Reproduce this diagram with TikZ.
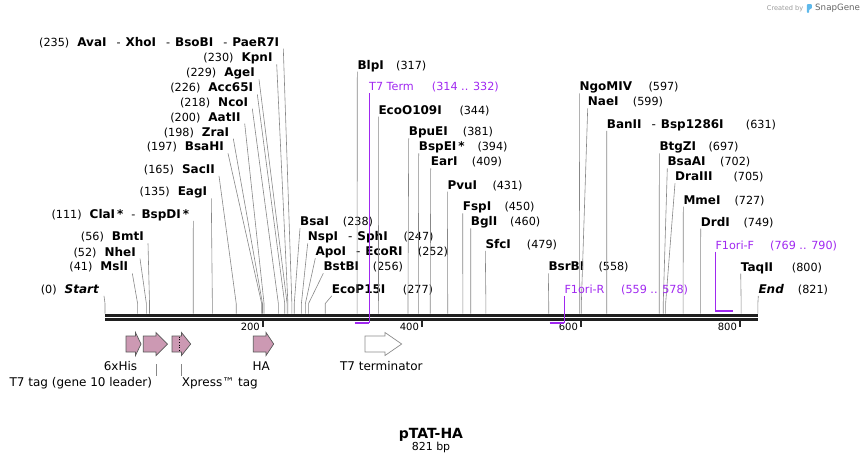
\documentclass[tikz,border=0pt]{standalone}
\usepackage{fontspec}
\setmainfont{DejaVu Sans}
\definecolor{featpink}{RGB}{204,153,179}
\definecolor{primpurple}{RGB}{160,40,240}
\definecolor{cutgray}{RGB}{135,135,135}
\definecolor{sgblue}{RGB}{95,185,235}
\newcommand{\nm}[1]{{\fontsize{12}{12}\selectfont\bfseries #1}}
\newcommand{\dsep}{\hspace{10pt}-\hspace{5pt}}
% feature arrow: x start, head start, tip, fill, outline
\newcommand{\featarrow}[5]{%
  \draw[draw=#5, fill=#4, line width=0.7pt] (#1,336) -- (#2,336) -- (#2,332.5) -- (#3,344)
    -- (#2,355.5) -- (#2,352) -- (#1,352) -- cycle;}
\tikzset{
  lab/.style={inner sep=0pt, font=\fontsize{11.2}{12}\selectfont, text height=8.6pt, text depth=2.4pt},
  enz/.style={lab, font=\fontsize{12}{12}\selectfont\bfseries},
  prim/.style={lab, text=primpurple},
  cut/.style={draw=cutgray, line width=0.6pt},
  primline/.style={draw=primpurple, line width=0.9pt},
  primbar/.style={draw=primpurple, line width=2pt},
  featlab/.style={inner sep=1pt, font=\fontsize{12}{14}\selectfont, text height=9pt, text depth=2.5pt},
  ticklab/.style={inner sep=0pt, font=\fontsize{10}{11}\selectfont},
}
\begin{document}
\begin{tikzpicture}[x=1pt, y=-1pt]
  \useasboundingbox (0,0) rectangle (864,464);

  % sites on the backbone
  \foreach \p in {0,41,52,56,111,135,165,197,198,200,218,226,229,230,235,238,247,252,256,277,
                  317,344,381,394,409,431,450,460,479,558,597,599,631,697,702,705,727,749,800,821}
    \coordinate (s\p) at ({105+0.7952*\p},313.5);
  \foreach \p in {314,332,559,578,769,790}
    \coordinate (p\p) at ({105+0.7952*\p},0);

  % left labels
  \node[lab, anchor=base east] (ava) at (279.3,46) {(235)\hspace{8pt}\nm{AvaI}\dsep\nm{XhoI}\dsep\nm{BsoBI}\dsep\nm{PaeR7I}};
  \node[lab, anchor=base east] (kpn) at (272.7,61.7) {(230)\hspace{8pt}\nm{KpnI}};
  \node[lab, anchor=base east] (age) at (255,76.7) {(229)\hspace{8pt}\nm{AgeI}};
  \node[lab, anchor=base east] (acc) at (253.3,91.7) {(226)\hspace{8pt}\nm{Acc65I}};
  \node[lab, anchor=base east] (nco) at (248.3,106) {(218)\hspace{8pt}\nm{NcoI}};
  \node[lab, anchor=base east] (aat) at (240.7,121) {(200)\hspace{8pt}\nm{AatII}};
  \node[lab, anchor=base east] (zra) at (229.3,136) {(198)\hspace{8pt}\nm{ZraI}};
  \node[lab, anchor=base east] (bsah) at (224,150.7) {(197)\hspace{8pt}\nm{BsaHI}};
  \node[lab, anchor=base east] (sac) at (215,173.3) {(165)\hspace{8pt}\nm{SacII}};
  \node[lab, anchor=base east] (eag) at (207.3,195.7) {(135)\hspace{8pt}\nm{EagI}};
  \node[lab, anchor=base east] (cla) at (189.3,218.3) {(111)\hspace{8pt}\nm{ClaI\,*}\hspace{8pt}-\hspace{6pt}\nm{BspDI\,*}};
  \node[lab, anchor=base east] (bmt) at (144,240.7) {(56)\hspace{8pt}\nm{BmtI}};
  \node[lab, anchor=base east] (nhe) at (136,256) {(52)\hspace{8pt}\nm{NheI}};
  \node[lab, anchor=base east] (msl) at (128.3,270.7) {(41)\hspace{8pt}\nm{MslI}};
  \node[lab, anchor=base east] (start) at (99,293.3) {(0)\hspace{8pt}\nm{\itshape Start}};

  \draw[cut] ([xshift=4pt]ava.south east) -- ([yshift=10pt]s235) -- (s235);
  \draw[cut] ([xshift=4pt]kpn.south east) -- ([yshift=10pt]s230) -- (s230);
  \draw[cut] ([xshift=4pt]age.south east) -- ([yshift=10pt]s229) -- (s229);
  \draw[cut] ([xshift=4pt]acc.south east) -- ([yshift=10pt]s226) -- (s226);
  \draw[cut] ([xshift=4pt]nco.south east) -- ([yshift=10pt]s218) -- (s218);
  \draw[cut] ([xshift=4pt]aat.south east) -- ([yshift=10pt]s200) -- (s200);
  \draw[cut] ([xshift=4pt]zra.south east) -- ([yshift=10pt]s198) -- (s198);
  \draw[cut] ([xshift=4pt]bsah.south east) -- ([yshift=10pt]s197) -- (s197);
  \draw[cut] ([xshift=4pt]sac.south east) -- ([yshift=10pt]s165) -- (s165);
  \draw[cut] ([xshift=4pt]eag.south east) -- ([yshift=10pt]s135) -- (s135);
  \draw[cut] ([xshift=4pt]cla.south east) -- ([yshift=10pt]s111) -- (s111);
  \draw[cut] ([xshift=4pt]bmt.south east) -- ([yshift=10pt]s56) -- (s56);
  \draw[cut] ([xshift=4pt]nhe.south east) -- ([yshift=10pt]s52) -- (s52);
  \draw[cut] ([xshift=4pt]msl.south east) -- ([yshift=10pt]s41) -- (s41);
  \draw[cut] ([xshift=5pt]start.south east) -- ([yshift=10pt]s0) -- (s0);

  % right labels
  \node[enz, anchor=base west] (blp) at (357.3,69) {BlpI};
  \node[lab, anchor=base west] (blpn) at (396,69) {(317)};
  \node[enz, anchor=base west] (ecoo) at (378.3,114) {EcoO109I};
  \node[lab, anchor=base west] (ecoon) at (459.3,114) {(344)};
  \node[enz, anchor=base west] (bpue) at (408.7,135.7) {BpuEI};
  \node[lab, anchor=base west] (bpuen) at (462.7,135.7) {(381)};
  \node[enz, anchor=base west] (bspe) at (418.7,150.7) {BspEI\,*};
  \node[lab, anchor=base west] (bspen) at (477.3,150.7) {(394)};
  \node[enz, anchor=base west] (ear) at (430.7,165.7) {EarI};
  \node[lab, anchor=base west] (earn) at (471.7,165.7) {(409)};
  \node[enz, anchor=base west] (pvu) at (447.3,189) {PvuI};
  \node[lab, anchor=base west] (pvun) at (492.3,189) {(431)};
  \node[enz, anchor=base west] (fsp) at (462.7,210.7) {FspI};
  \node[lab, anchor=base west] (fspn) at (504.3,210.7) {(450)};
  \node[enz, anchor=base west] (bgl) at (470.7,225.7) {BglI};
  \node[lab, anchor=base west] (bgln) at (510,225.7) {(460)};
  \node[enz, anchor=base west] (sfc) at (485.3,248.3) {SfcI};
  \node[lab, anchor=base west] (sfcn) at (526.7,248.3) {(479)};
  \node[enz, anchor=base west] (bsa) at (300,225.7) {BsaI};
  \node[lab, anchor=base west] (bsan) at (342.7,225.7) {(238)};
  \node[enz, anchor=base west] (nsp) at (307.7,240.7) {NspI\mdseries\dsep\bfseries SphI};
  \node[lab, anchor=base west] (nspn) at (403.3,240.7) {(247)};
  \node[enz, anchor=base west] (apo) at (315.3,255.7) {ApoI\mdseries\dsep\bfseries EcoRI};
  \node[lab, anchor=base west] (apon) at (417.7,255.7) {(252)};
  \node[enz, anchor=base west] (bstb) at (323.3,270.7) {BstBI};
  \node[lab, anchor=base west] (bstbn) at (372.7,270.7) {(256)};
  \node[enz, anchor=base west] (ecop) at (331.7,293.3) {EcoP15I};
  \node[lab, anchor=base west] (ecopn) at (402.7,293.3) {(277)};
  \node[enz, anchor=base west] (bsrb) at (548.3,270.7) {BsrBI};
  \node[lab, anchor=base west] (bsrbn) at (598.3,270.7) {(558)};
  \node[enz, anchor=base west] (ngo) at (579.3,90.7) {NgoMIV};
  \node[lab, anchor=base west] (ngon) at (648.3,90.7) {(597)};
  \node[enz, anchor=base west] (nae) at (587.7,105.7) {NaeI};
  \node[lab, anchor=base west] (naen) at (632.7,105.7) {(599)};
  \node[enz, anchor=base west] (ban) at (606.7,128.3) {BanII\mdseries\dsep\bfseries Bsp1286I};
  \node[lab, anchor=base west] (bann) at (745.7,128.3) {(631)};
  \node[enz, anchor=base west] (btgz) at (659.3,150.7) {BtgZI};
  \node[lab, anchor=base west] (btgzn) at (708.3,150.7) {(697)};
  \node[enz, anchor=base west] (bsaa) at (667.3,165.7) {BsaAI};
  \node[lab, anchor=base west] (bsaan) at (720,165.7) {(702)};
  \node[enz, anchor=base west] (dra) at (675,180.7) {DraIII};
  \node[lab, anchor=base west] (dran) at (733.3,180.7) {(705)};
  \node[enz, anchor=base west] (mme) at (683.3,204) {MmeI};
  \node[lab, anchor=base west] (mmen) at (734.3,204) {(727)};
  \node[enz, anchor=base west] (drd) at (700.7,226) {DrdI};
  \node[lab, anchor=base west] (drdn) at (743.3,226) {(749)};
  \node[enz, anchor=base west] (taq) at (740.7,271) {TaqII};
  \node[lab, anchor=base west] (taqn) at (791.7,271) {(800)};
  \node[enz, anchor=base west] (endl) at (758.3,293.3) {\itshape End};
  \node[lab, anchor=base west] (endn) at (797.7,293.3) {(821)};

  \draw[cut] (blp.south west) -- ([yshift=10pt]s317) -- (s317);
  \draw[cut] (ecoo.south west) -- ([yshift=10pt]s344) -- (s344);
  \draw[cut] (bpue.south west) -- ([yshift=10pt]s381) -- (s381);
  \draw[cut] (bspe.south west) -- ([yshift=10pt]s394) -- (s394);
  \draw[cut] (ear.south west) -- ([yshift=10pt]s409) -- (s409);
  \draw[cut] (pvu.south west) -- ([yshift=10pt]s431) -- (s431);
  \draw[cut] (fsp.south west) -- ([yshift=10pt]s450) -- (s450);
  \draw[cut] (bgl.south west) -- ([yshift=10pt]s460) -- (s460);
  \draw[cut] (sfc.south west) -- ([yshift=10pt]s479) -- (s479);
  \draw[cut] (bsa.south west) -- ([yshift=10pt]s238) -- (s238);
  \draw[cut] (nsp.south west) -- ([yshift=10pt]s247) -- (s247);
  \draw[cut] (apo.south west) -- ([yshift=10pt]s252) -- (s252);
  \draw[cut] (bstb.south west) -- ([yshift=10pt]s256) -- (s256);
  \draw[cut] (ecop.south west) -- ([yshift=10pt]s277) -- (s277);
  \draw[cut] (bsrb.south west) -- ([yshift=10pt]s558) -- (s558);
  \draw[cut] (ngo.south west) -- ([yshift=10pt]s597) -- (s597);
  \draw[cut] (nae.south west) -- ([yshift=10pt]s599) -- (s599);
  \draw[cut] (ban.south west) -- ([yshift=10pt]s631) -- (s631);
  \draw[cut] (btgz.south west) -- ([yshift=10pt]s697) -- (s697);
  \draw[cut] (bsaa.south west) -- ([yshift=10pt]s702) -- (s702);
  \draw[cut] (dra.south west) -- ([yshift=10pt]s705) -- (s705);
  \draw[cut] (mme.south west) -- ([yshift=10pt]s727) -- (s727);
  \draw[cut] (drd.south west) -- ([yshift=10pt]s749) -- (s749);
  \draw[cut] (taq.south west) -- ([yshift=10pt]s800) -- (s800);
  \draw[cut] (endl.south west) -- ([yshift=10pt]s821) -- (s821);

  % backbone and ruler
  \draw[line width=2.6pt, black!88] ([yshift=-1.8pt]s0) -- ([yshift=-1.8pt]s821);
  \draw[line width=2.4pt, black!88] ([yshift=-6pt]s0) -- ([yshift=-6pt]s821);
  \foreach \t in {200,400,600,800} {
    \draw[line width=1.6pt, black!85] ({104+0.7952*\t},321) -- ++(0,6.3);
    \node[ticklab, anchor=base east] (tk\t) at ({101+0.7952*\t},330.7) {\t};
  }

  % primers
  \node[prim, anchor=base west] (t7t) at (369,90.7) {T7 Term};
  \node[prim, anchor=base west] (t7tn) at (431.7,90.7) {(314 .. 332)};
  \node[prim, anchor=base west] (f1r) at (564.3,293.3) {F1ori-R};
  \node[prim, anchor=base west] (f1rn) at (621,293.3) {(559 .. 578)};
  \node[prim, anchor=base west] (f1f) at (715.3,249) {F1ori-F};
  \node[prim, anchor=base west] (f1fn) at (770,249) {(769 .. 790)};
  \draw[primline] (t7t.south west) -- (t7t.south west |- 0,323);
  \draw[primbar] (p314 |- 0,323) -- (t7t.south west |- 0,323);
  \draw[primline] (f1r.south west) -- (f1r.south west |- 0,323);
  \draw[primbar] (p559 |- 0,323) -- (f1r.south west |- 0,323);
  \draw[primline] (f1f.south west) -- (f1f.south west |- 0,310.7);
  \draw[primbar] (f1f.south west |- 0,310.7) -- (p790 |- 0,310.7);

  % features
  \featarrow{126}{135.5}{141}{featpink}{black!65}
  \featarrow{143.3}{156}{167.5}{featpink}{black!65}
  \featarrow{172}{181.5}{190.7}{featpink}{black!65}
  \draw[black, dotted, line width=0.7pt] (179.3,336.5) -- (179.3,351.5);
  \featarrow{253.3}{266}{273.7}{featpink}{black!65}
  \featarrow{365}{385}{401.7}{white}{black!45}

  \node[featlab, anchor=base] (hislab) at (120.5,370) {6xHis};
  \node[featlab, anchor=base east] (t7taglab) at (153.3,386) {T7 tag (gene 10 leader)};
  \node[featlab, anchor=base west] (xplab) at (180.7,386) {Xpress™ tag};
  \node[featlab, anchor=base] (halab) at (261.3,370) {HA};
  \node[featlab, anchor=base] (t7termlab) at (381.3,370) {T7 terminator};
  \coordinate (t7tagc) at (156.7,364.3);
  \coordinate (xpc) at (181,364.3);
  \draw[cut] (t7tagc) -- (t7tagc |- t7taglab.north);
  \draw[cut] (xpc) -- (xpc |- xplab.north);

  % title
  \node[inner sep=0pt, anchor=base, font=\fontsize{14}{16}\selectfont\bfseries] (title) at (431,438.3) {pTAT-HA};
  \node[inner sep=0pt, anchor=base, font=\fontsize{11}{13}\selectfont] (bplen) at (431,450.7) {821 bp};

  % watermark
  \node[inner sep=0pt, anchor=base west, font=\fontsize{6.6}{8}\selectfont, text=black!40] (made) at (766.7,10) {Created by};
  \fill[sgblue, rounded corners=0.8pt] (806.8,12.8) -- (806.8,4.2) -- (811.8,4.2) -- (811.8,8.6) -- (809.2,9.4) -- (809.2,12.8) -- cycle;
  \node[inner sep=0pt, anchor=base west, font=\fontsize{8.7}{10}\selectfont, text=black!60] (sg) at (815,10) {SnapGene};
\end{tikzpicture}
\end{document}
